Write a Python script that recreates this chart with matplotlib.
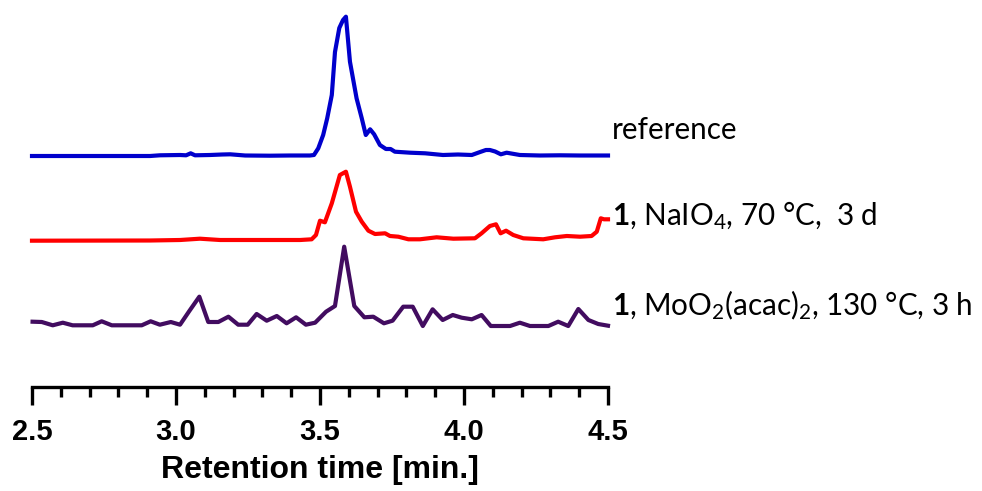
import matplotlib
matplotlib.use("Agg")
import matplotlib.pyplot as plt
from matplotlib.ticker import MultipleLocator

# Retention times (min) and detector response (arb. units) for each run
t_ref = [2.500, 2.910, 2.944, 3.014, 3.035, 3.051, 3.066, 3.118, 3.160, 3.188,
         3.240, 3.326, 3.396, 3.465, 3.479, 3.494, 3.511, 3.525, 3.541, 3.552,
         3.567, 3.580, 3.590, 3.604, 3.627, 3.645, 3.659, 3.674, 3.688, 3.708,
         3.729, 3.745, 3.760, 3.813, 3.865, 3.927, 3.979, 4.027, 4.056, 4.076,
         4.090, 4.108, 4.128, 4.148, 4.194, 4.264, 4.333, 4.403, 4.500]
i_ref = [0.0, 0.0, 0.7, 1.0, 0.7, 2.7, 0.7, 1.0, 1.5, 1.7,
         0.5, 0.3, 0.5, 0.5, 1.0, 7.7, 21.0, 37.7, 61.0, 104.0,
         128.0, 136.0, 139.3, 94.3, 57.7, 37.7, 21.0, 26.7, 21.7, 11.0,
         7.0, 7.0, 4.3, 3.3, 2.7, 1.0, 1.5, 1.0, 4.0, 6.0,
         6.0, 4.5, 1.7, 3.3, 1.0, 0.5, 0.7, 0.5, 0.5]

t_naio4 = [2.500, 2.910, 3.014, 3.083, 3.153, 3.292, 3.431, 3.471, 3.486, 3.500,
           3.517, 3.541, 3.569, 3.590, 3.604, 3.625, 3.645, 3.668, 3.691, 3.726,
           3.743, 3.772, 3.807, 3.847, 3.905, 3.963, 4.038, 4.061, 4.090, 4.111,
           4.127, 4.146, 4.171, 4.206, 4.275, 4.316, 4.357, 4.403, 4.443, 4.461,
           4.475, 4.486, 4.500]
i_naio4 = [0.3, 0.5, 1.0, 2.3, 1.0, 1.0, 1.0, 1.7, 6.0, 20.3,
           18.7, 37.7, 66.0, 69.3, 54.3, 29.3, 19.3, 10.3, 7.0, 7.7,
           5.0, 4.3, 1.7, 1.7, 3.7, 2.3, 2.7, 7.7, 15.0, 16.7,
           7.7, 10.3, 6.0, 2.7, 1.7, 3.7, 5.0, 4.3, 5.0, 9.3,
           22.7, 21.7, 21.7]

t_moo2 = [2.502, 2.534, 2.572, 2.607, 2.641, 2.676, 2.711, 2.742, 2.777, 2.811,
          2.846, 2.881, 2.912, 2.944, 2.982, 3.014, 3.047, 3.081, 3.112, 3.147,
          3.182, 3.216, 3.249, 3.280, 3.315, 3.350, 3.384, 3.417, 3.451, 3.483,
          3.521, 3.552, 3.584, 3.619, 3.654, 3.685, 3.722, 3.752, 3.789, 3.822,
          3.857, 3.891, 3.926, 3.961, 3.992, 4.027, 4.061, 4.093, 4.125, 4.160,
          4.194, 4.229, 4.264, 4.293, 4.327, 4.362, 4.397, 4.432, 4.466, 4.500]
i_moo2 = [4.3, 4.0, 0.7, 3.3, 0.7, 0.7, 0.7, 4.7, 0.7, 0.7,
          0.7, 0.7, 4.7, 1.3, 4.0, 1.3, 15.3, 29.3, 4.0, 4.0,
          9.3, 1.3, 1.3, 12.0, 5.3, 10.0, 2.7, 8.7, 1.3, 3.3,
          14.3, 20.0, 79.3, 20.0, 8.7, 9.3, 2.7, 5.3, 19.3, 19.3,
          0.0, 16.7, 6.0, 11.0, 8.3, 6.7, 11.0, 0.0, 0.0, 0.0,
          3.3, 0.0, 0.0, 0.0, 4.3, 0.0, 17.0, 6.0, 2.0, 0.3]

labels = ["reference",
          r"$\mathbf{1}$, NaIO$_4$, 70 °C,  3 d",
          r"$\mathbf{1}$, MoO$_2$(acac)$_2$, 130 °C, 3 h"]
colors = ["#0000cc", "#ff0000", "#420c60"]
offsets = [231, 146, 61]          # vertical stacking of the traces
label_dy = [26, 25, 21]           # label height above each baseline

plt.rcParams["mathtext.fontset"] = "custom"
plt.rcParams["mathtext.rm"] = "Lato"
plt.rcParams["mathtext.it"] = "Lato:italic"
plt.rcParams["mathtext.bf"] = "Lato:bold"
plt.rcParams["mathtext.default"] = "regular"

fig = plt.figure(figsize=(9.82, 4.91), dpi=100)
ax = fig.add_axes([32 / 982, 104 / 491, 576 / 982, 382 / 491])

series = [(t_ref, i_ref), (t_naio4, i_naio4), (t_moo2, i_moo2)]
for (t, y), c, off, lab, dy in zip(series, colors, offsets, labels, label_dy):
    ax.plot(t, [v + off for v in y], color=c, lw=3.0, solid_joinstyle="round",
            clip_on=False)
    ax.text(4.514, off + dy, lab, fontsize=21.3, family="Lato", va="center",
            ha="left", clip_on=False)

ax.set_xlim(2.5, 4.5)
ax.set_ylim(0, 382)
for s in ("top", "left", "right"):
    ax.spines[s].set_visible(False)
ax.spines["bottom"].set_linewidth(2.4)
ax.set_yticks([])
ax.xaxis.set_major_locator(MultipleLocator(0.5))
ax.xaxis.set_minor_locator(MultipleLocator(0.1))
ax.tick_params(axis="x", which="major", direction="out", length=13, width=2.4,
               pad=9)
ax.tick_params(axis="x", which="minor", direction="out", length=7.5, width=2.4)
ax.set_xticks([2.5, 3.0, 3.5, 4.0, 4.5])
ax.set_xticklabels(["2.5", "3.0", "3.5", "4.0", "4.5"],
                   fontsize=21, fontweight="bold", family="Liberation Sans")
ax.set_xlabel("Retention time [min.]", fontsize=23, fontweight="bold",
              family="Liberation Sans", labelpad=7)
ax.patch.set_alpha(0)

fig.savefig("out.png", dpi=100)
